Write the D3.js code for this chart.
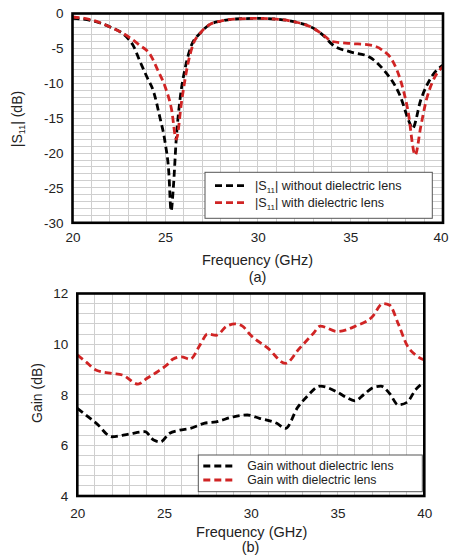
<!DOCTYPE html>
<html><head><meta charset="utf-8">
<script src="https://cdn.jsdelivr.net/npm/d3@7"></script>
<style>
html,body{margin:0;padding:0;background:#fff;}
svg{display:block;font-family:"Liberation Sans",Arial,sans-serif;}
</style></head>
<body>
<svg id="c" width="449" height="557"></svg>
<script>
// ---- Data (a): |S11| ----
const s11Freq_noLens = [20,21,22,23,23.3,23.6,24,24.4,24.7,25,25.2,25.32,25.45,25.6,25.8,26.1,26.4,26.9,27.4,28,28.7,30,31,32,33,33.6,34,35,36,36.8,37.7,38.2,38.35,38.8,39.4,40];
const s11_noLens      = [-0.7,-1.0,-1.9,-3.6,-4.7,-6.6,-9,-11.4,-14.7,-18.5,-22.8,-28.3,-24.7,-18,-12.4,-7.6,-4.7,-2.8,-1.6,-1.1,-0.8,-0.7,-0.8,-1.2,-2.1,-3.3,-4.4,-5.5,-6.2,-8.1,-11.9,-15.7,-16.5,-12.4,-9,-7.4];
const s11Freq_lens = [20,21,22,23,23.6,24.2,24.6,25,25.35,25.6,25.9,26.2,26.5,26.9,27.4,28,28.7,30,31,32,33,33.6,34,35,36,36.7,37.3,37.7,38.1,38.5,38.8,39.1,39.4,40];
const s11_lens      = [-0.5,-0.9,-1.9,-3.3,-4.5,-5.9,-8.1,-10.5,-13.8,-18,-12.4,-7.6,-4.5,-2.8,-1.6,-1.1,-0.8,-0.7,-0.8,-1.2,-2.1,-3.2,-4.0,-4.3,-4.5,-5.2,-6.9,-9.5,-13.8,-20.3,-16.2,-12.4,-10,-7.6];
const s11Ticks = [0,-5,-10,-15,-20,-25,-30];
const freqTicks = [20,25,30,35,40];

// ---- Data (b): Gain ----
const gainFreq_noLens = [20,21.1,22,23,23.9,24.4,24.8,25.3,25.9,26.5,27.3,28,29,29.8,30.5,31.5,32,32.7,33.2,34,35,35.5,36,36.5,37.1,37.5,38,38.5,39,39.5,40];
const gain_noLens     = [7.46,6.87,6.34,6.45,6.54,6.21,6.14,6.47,6.6,6.67,6.87,6.93,7.13,7.2,7.07,6.87,6.67,7.5,7.9,8.34,8.1,7.9,7.76,8.0,8.3,8.34,8.05,7.6,7.7,8.2,8.5];
const gainFreq_lens = [20,20.5,21.1,22,22.6,23.5,24,24.6,25.2,25.5,26,26.5,27.1,27.5,28,28.6,29.1,29.5,30,31,32,32.8,33.6,34,35,36,37,37.6,38,38.5,39,39.5,40];
const gain_lens     = [9.57,9.3,8.97,8.84,8.78,8.42,8.64,8.9,9.2,9.4,9.5,9.4,10.0,10.4,10.35,10.7,10.8,10.72,10.35,9.83,9.24,9.83,10.42,10.71,10.5,10.7,11.08,11.6,11.54,10.8,9.96,9.57,9.37];
const gainTicks = [4,6,8,10,12];

const labels = {
  xTitle: "Frequency (GHz)",
  aTag: "(a)", bTag: "(b)",
  gainY: "Gain (dB)",
  gainLeg1: "Gain without dielectric lens",
  gainLeg2: "Gain with dielectric lens"
};

const RED = "#d02424";
const svg = d3.select("#c");

function panel(opt){
  const g = svg.append("g");
  const x = d3.scaleLinear().domain([20,40]).range([opt.l, opt.r]);
  const y = d3.scaleLinear().domain(opt.yDomain).range([opt.b, opt.t]);
  // grid
  const grid = g.append("g").attr("stroke","#cfcfcf").attr("stroke-width",1).attr("shape-rendering","crispEdges");
  d3.range(20,40.001,1).forEach(f=>{
    grid.append("line").attr("x1",x(f)).attr("x2",x(f)).attr("y1",opt.t).attr("y2",opt.b);
  });
  opt.hGrid.forEach(v=>{
    grid.append("line").attr("x1",opt.l).attr("x2",opt.r).attr("y1",y(v)).attr("y2",y(v));
  });
  // axes (ticks/labels)
  const xa = g.append("g").attr("transform",`translate(0,${opt.b})`)
    .call(d3.axisBottom(x).tickValues(freqTicks).tickSize(0).tickPadding(opt.xPad).tickFormat(d3.format("d")));
  const ya = g.append("g").attr("transform",`translate(${opt.l},0)`)
    .call(d3.axisLeft(y).tickValues(opt.yTicks).tickSize(0).tickPadding(opt.yPad).tickFormat(d=>d<0?"-"+Math.abs(d):d));
  [xa,ya].forEach(a=>{
    a.select(".domain").remove();
    a.selectAll("text").attr("font-size",13.5).attr("fill","#222").attr("font-family","Liberation Sans, Arial, sans-serif");
  });
  // keep last x tick label inside the page
  xa.selectAll(".tick").filter(d=>d===40).select("text").attr("dx", opt.lastDx || 0);
  // series
  const line = d3.line().x(d=>x(d[0])).y(d=>y(d[1])).curve(d3.curveMonotoneX);
  opt.series.forEach(s=>{
    g.append("path").datum(d3.zip(s.f, s.v)).attr("d",line)
      .attr("fill","none").attr("stroke",s.color).attr("stroke-width",2.8)
      .attr("stroke-dasharray","7,4").attr("stroke-linecap","butt");
  });
  // border
  g.append("rect").attr("x",opt.l).attr("y",opt.t).attr("width",opt.r-opt.l).attr("height",opt.b-opt.t)
    .attr("fill","none").attr("stroke","#000").attr("stroke-width",2.6);
  return {g,x,y};
}

// ---- Panel (a)
const pa = panel({
  l:72.5, r:443, t:13.5, b:222.8, yDomain:[-30,0], yTicks:s11Ticks,
  hGrid:d3.range(-29,0,1), xPad:10, yPad:9, lastDx:-2.5,
  series:[{f:s11Freq_noLens,v:s11_noLens,color:"#000"},{f:s11Freq_lens,v:s11_lens,color:RED}]
});
// legend (a)
{
  const lg = pa.g.append("g");
  lg.append("rect").attr("x",205).attr("y",172.3).attr("width",227.3).attr("height",46)
    .attr("fill","#fff").attr("stroke","#555").attr("stroke-width",1);
  const rows = [{c:"#000",y:185.7,t:" without dielectric lens"},{c:RED,y:202.7,t:" with dielectric lens"}];
  rows.forEach(r=>{
    lg.append("line").attr("x1",215).attr("x2",245).attr("y1",r.y).attr("y2",r.y)
      .attr("stroke",r.c).attr("stroke-width",2.8).attr("stroke-dasharray","7,4");
    const t = lg.append("text").attr("x",255).attr("y",r.y+4.3).attr("font-size",12.6).attr("fill","#222");
    t.append("tspan").text("|S");
    t.append("tspan").attr("font-size",8).attr("dy",3).text("11");
    t.append("tspan").attr("dy",-3).text("|" + r.t);
  });
}
// axis titles (a)
svg.append("text").attr("x",257.5).attr("y",265).attr("text-anchor","middle").attr("font-size",14.5).attr("fill","#222").text(labels.xTitle);
svg.append("text").attr("x",257.5).attr("y",282).attr("text-anchor","middle").attr("font-size",14.5).attr("fill","#222").text(labels.aTag);
{
  const t = svg.append("text").attr("transform","translate(22,119) rotate(-90)").attr("text-anchor","middle").attr("font-size",14).attr("fill","#222");
  t.append("tspan").text("|S");
  t.append("tspan").attr("font-size",9).attr("dy",3).text("11");
  t.append("tspan").attr("dy",-3).text("| (dB)");
}

// ---- Panel (b)
const pb = panel({
  l:77.3, r:424.3, t:293.5, b:496, yDomain:[4,12], yTicks:gainTicks,
  hGrid:d3.range(4.4,11.9,0.4), xPad:12, yPad:9, lastDx:0,
  series:[{f:gainFreq_noLens,v:gain_noLens,color:"#000"},{f:gainFreq_lens,v:gain_lens,color:RED}]
});
{
  const lg = pb.g.append("g");
  lg.append("rect").attr("x",198.3).attr("y",455).attr("width",224).attr("height",36.7)
    .attr("fill","#fff").attr("stroke","#555").attr("stroke-width",1);
  const rows = [{c:"#000",y:466,t:labels.gainLeg1},{c:RED,y:480,t:labels.gainLeg2}];
  rows.forEach(r=>{
    lg.append("line").attr("x1",203.3).attr("x2",235).attr("y1",r.y).attr("y2",r.y)
      .attr("stroke",r.c).attr("stroke-width",2.8).attr("stroke-dasharray","7,4");
    lg.append("text").attr("x",247.3).attr("y",r.y+4.3).attr("font-size",12.3).attr("fill","#222").text(r.t);
  });
}
svg.append("text").attr("x",251.7).attr("y",536.5).attr("text-anchor","middle").attr("font-size",14.5).attr("fill","#222").text(labels.xTitle);
svg.append("text").attr("x",250.5).attr("y",552).attr("text-anchor","middle").attr("font-size",14.5).attr("fill","#222").text(labels.bTag);
svg.append("text").attr("transform","translate(42,393) rotate(-90)").attr("text-anchor","middle").attr("font-size",14).attr("fill","#222").text(labels.gainY);
</script>
</body></html>
